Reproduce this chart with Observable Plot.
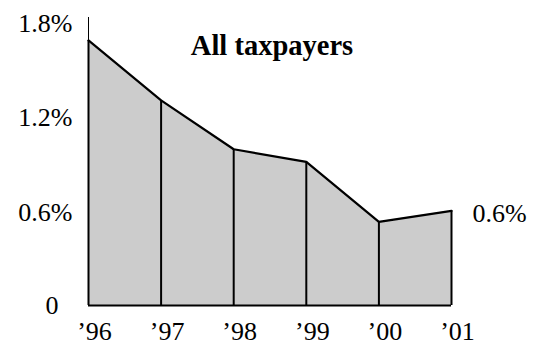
<!DOCTYPE html>
<html>
<head>
<meta charset="utf-8">
<script src="https://cdn.jsdelivr.net/npm/d3@7"></script>
<script src="https://cdn.jsdelivr.net/npm/@observablehq/plot@0.6"></script>
<style>
  html, body { margin: 0; padding: 0; background: #fff; }
  #chart svg { display: block; font-family: "Liberation Serif", "Times New Roman", serif !important; }
  #chart svg text { font-family: "Liberation Serif", "Times New Roman", serif !important; }
</style>
</head>
<body>
<div id="chart"></div>
<script>
// Share of all taxpayers, by tax year
const years = [1996, 1997, 1998, 1999, 2000, 2001];
const shares = [1.68, 1.30, 0.99, 0.91, 0.53, 0.6];
const yTicks = [0.6, 1.2, 1.8];
const yTickLabels = ["0.6%", "1.2%", "1.8%"];
const xTickLabels = ["\u201996", "\u201997", "\u201998", "\u201999", "\u201900", "\u201901"];
const title = "All taxpayers";
const endLabel = "0.6%";

const data = years.map((year, i) => ({year, share: shares[i]}));
const last = data[data.length - 1];
const serif = "Liberation Serif";

const chart = Plot.plot({
  width: 534,
  height: 345,
  marginLeft: 88,
  marginRight: 83,
  marginTop: 17,
  marginBottom: 40,
  style: {fontFamily: serif, fontSize: "26px", color: "#000", background: "#fff"},
  x: {domain: [years[0], years[years.length - 1]], label: null},
  y: {domain: [0, 1.825], label: null},
  marks: [
    Plot.areaY(data, {x: "year", y: "share", fill: "#cccccc"}),
    Plot.frame({anchor: "left", stroke: "#000", strokeWidth: 1}),
    Plot.ruleX(data, {x: "year", y1: 0, y2: "share", stroke: "#000", strokeWidth: 2}),
    Plot.line(data, {x: "year", y: "share", stroke: "#000", strokeWidth: 2.2}),
    Plot.ruleY([0], {x1: years[0], x2: years[years.length - 1], stroke: "#000", strokeWidth: 2}),
    Plot.axisX(years, {
      label: null, tickSize: 0, tickPadding: 16, fontSize: 26, dx: 6, fontFamily: serif,
      tickFormat: (d) => xTickLabels[years.indexOf(d)]
    }),
    Plot.axisY(yTicks, {
      label: null, tickSize: 0, tickPadding: 16, fontSize: 26, dy: 2, fontFamily: serif,
      tickFormat: (d) => yTickLabels[yTicks.indexOf(d)]
    }),
    Plot.axisY([0], {label: null, tickSize: 0, tickPadding: 30, fontSize: 26, fontFamily: serif, tickFormat: () => "0"}),
    Plot.text([last], {x: "year", y: "share", text: () => endLabel, textAnchor: "start", dx: 21, dy: 3, fontSize: 26, fontFamily: serif}),
    Plot.text([title], {frameAnchor: "top", dy: 28, dx: 2, fontSize: 28.5, fontWeight: "bold", lineAnchor: "middle", fontFamily: serif})
  ]
});

document.getElementById("chart").appendChild(chart);
</script>
</body>
</html>
